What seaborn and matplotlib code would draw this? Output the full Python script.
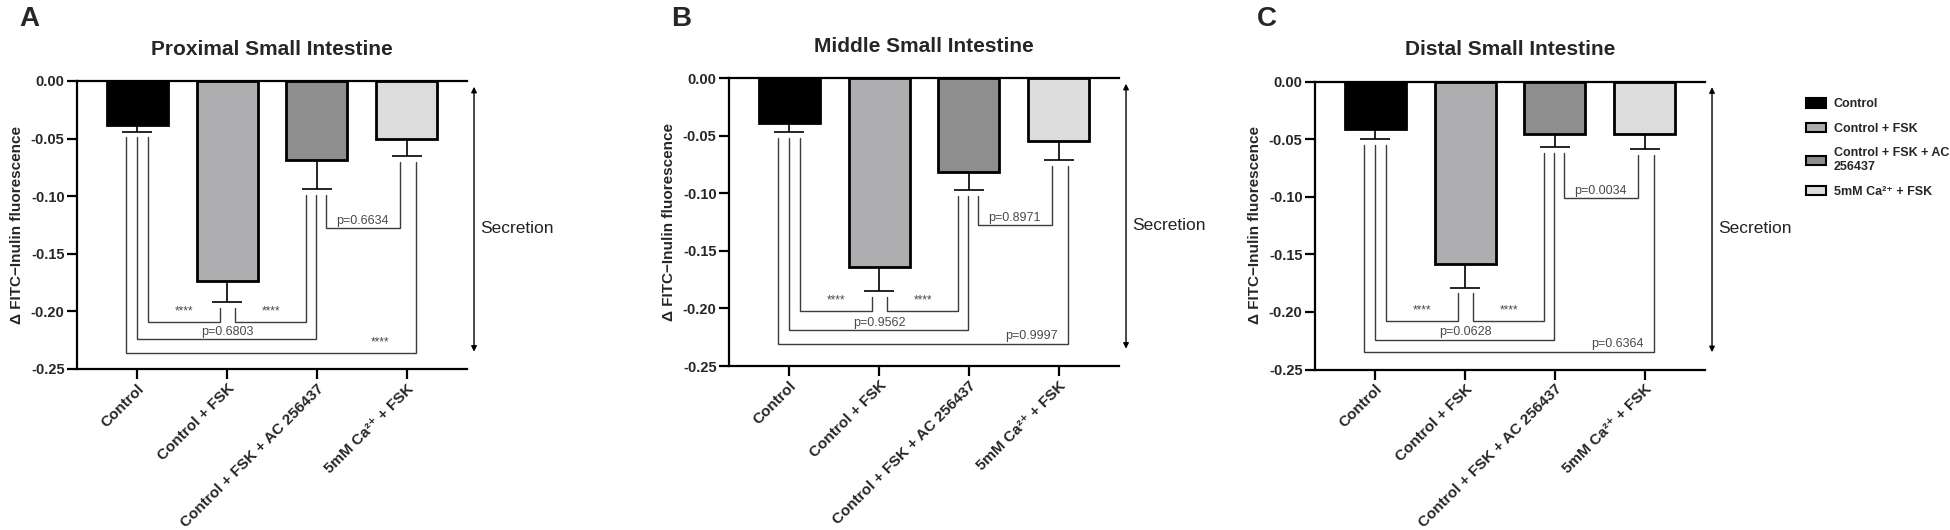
import numpy as np
import pandas as pd
import matplotlib
matplotlib.use("Agg")
import matplotlib.pyplot as plt
import matplotlib.transforms as mtransforms
from matplotlib.patches import Patch
import seaborn as sns

# ---------------- data ----------------
groups = ["Control", "Control + FSK", "Control + FSK + AC 256437", "5mM Ca²⁺ + FSK"]
legend_labels = ["Control", "Control + FSK", "Control + FSK + AC\n256437", "5mM Ca²⁺ + FSK"]
bar_colors = ["#000000", "#adadb1", "#8e8e8e", "#dcdcdc"]

panel_titles = ["Proximal Small Intestine", "Middle Small Intestine", "Distal Small Intestine"]
panel_letters = ["A", "B", "C"]

proximal_mean = [-0.038, -0.174, -0.069, -0.050]
proximal_sem = [0.006, 0.018, 0.025, 0.015]
middle_mean = [-0.039, -0.164, -0.082, -0.055]
middle_sem = [0.008, 0.021, 0.015, 0.016]
distal_mean = [-0.041, -0.158, -0.046, -0.046]
distal_sem = [0.009, 0.021, 0.011, 0.013]

# comparisons (pairs of group indices) and their labels per panel
pairs = [(0, 1), (1, 2), (0, 2), (0, 3), (2, 3)]
proximal_p = ["****", "****", "p=0.6803", "****", "p=0.6634"]
middle_p = ["****", "****", "p=0.9562", "p=0.9997", "p=0.8971"]
distal_p = ["****", "****", "p=0.0628", "p=0.6364", "p=0.0034"]

y_ticks = [0.00, -0.05, -0.10, -0.15, -0.20, -0.25]
y_label = "Δ FITC−Inulin fluorescence"

# ---------------- style ----------------
sns.set_style("ticks")
plt.rcParams["font.family"] = ["Liberation Sans", "DejaVu Sans"]
plt.rcParams["axes.unicode_minus"] = False

fig = plt.figure(figsize=(19.5, 5.3), dpi=100)
W, H = 1950.0, 530.0

# axes boxes in pixels: left, top, width, bottom
boxes = [(77, 81, 390, 369), (729, 78, 390, 366), (1315, 81.5, 390, 369.5)]

means = [proximal_mean, middle_mean, distal_mean]
sems = [proximal_sem, middle_sem, distal_sem]
plabels = [proximal_p, middle_p, distal_p]

# bracket heights (positive = depth below 0) for each pair per panel
levels = [
    [0.209, 0.209, 0.224, 0.236, 0.128],
    [0.202, 0.202, 0.219, 0.2305, 0.128],
    [0.208, 0.208, 0.224, 0.2346, 0.1015],
]
# leg offsets (left leg, right leg) for each pair
leg_off = [(0.12, -0.08), (0.09, -0.12), (0.0, -0.01), (-0.13, 0.1), (0.1, -0.08)]
label_x = [None, None, 1.0, 2.7, None]

line_col = "#3c3c3c"
text_col = "#4a4a4a"

for k in range(3):
    l, t, w, b = boxes[k]
    ax = fig.add_axes([l / W, 1 - b / H, w / W, (b - t) / H])
    df = pd.DataFrame({"group": groups, "value": means[k]})
    sns.barplot(data=df, x="group", y="value", hue="group", order=groups,
                hue_order=groups, palette=bar_colors, width=0.68,
                edgecolor="black", linewidth=2.0, errorbar=None,
                legend=False, ax=ax, zorder=2)
    m = np.array(means[k])
    s = np.array(sems[k])
    ax.errorbar(np.arange(4), m, yerr=[s, np.zeros(4)], fmt="none",
                ecolor="black", elinewidth=1.2, capsize=11, capthick=1.2,
                zorder=1)

    # significance brackets
    for pi, (i, j) in enumerate(pairs):
        lev = -levels[k][pi]
        xl = i + leg_off[pi][0]
        xr = j + leg_off[pi][1]
        yl = m[i] - s[i] - 0.005
        yr = m[j] - s[j] - 0.005
        ax.plot([xl, xl, xr, xr], [yl, lev, lev, yr], color=line_col,
                lw=1.0, zorder=1, solid_joinstyle="miter")
        lab = plabels[k][pi]
        tx = label_x[pi] if label_x[pi] is not None else (xl + xr) / 2
        if lab.startswith("*"):
            ax.text(tx, lev + 0.009, lab, ha="center", va="center",
                    fontsize=8.5, color=text_col)
        else:
            ax.text(tx, lev + 0.0012, lab, ha="center", va="bottom",
                    fontsize=9, color=text_col)

    ax.set_ylim(-0.25, 0.0)
    ax.set_xlim(-0.67, 3.67)
    ax.set_yticks(y_ticks)
    ax.set_yticklabels([f"{v:.2f}" for v in y_ticks], fontweight="bold", fontsize=10.5)
    ax.set_xticks(range(4))
    ax.set_xticklabels(groups, rotation=45, ha="right", rotation_mode="anchor",
                       fontweight="bold", fontsize=11)
    ax.set_xlabel("")
    ax.set_ylabel(y_label, fontweight="bold", fontsize=11, labelpad=5)
    ax.set_title(panel_titles[k], fontweight="bold", fontsize=15, pad=19)
    for side in ["left", "bottom", "top"]:
        ax.spines[side].set_linewidth(1.6)
        ax.spines[side].set_color("black")
    ax.spines["right"].set_visible(False)
    ax.tick_params(axis="both", width=1.6, length=7, color="black", pad=2)
    ax.tick_params(top=False, right=False)

    # secretion arrow
    trans = mtransforms.blended_transform_factory(ax.transAxes, ax.transData)
    ax.annotate("", xy=(1.018, -0.235), xytext=(1.018, -0.005),
                xycoords=trans, textcoords=trans,
                arrowprops=dict(arrowstyle="<|-|>", lw=1.0, color="black",
                                mutation_scale=8, shrinkA=0, shrinkB=0),
                annotation_clip=False)
    ax.text(1.033, -0.128, "Secretion", transform=trans, fontsize=12.5,
            ha="left", va="center", color="#222222")

    fig.text((l - 48) / W, 1 - 19 / H, panel_letters[k], fontsize=20,
             fontweight="bold", ha="center", va="center")

handles = [Patch(facecolor=c, edgecolor="black", linewidth=1.5) for c in bar_colors]
fig.legend(handles, legend_labels, loc="upper left",
           bbox_to_anchor=(1795 / W, 1 - 87 / H), frameon=False,
           prop={"weight": "bold", "size": 9}, handlelength=1.6,
           handleheight=0.8, labelspacing=1.0, handletextpad=0.6)

fig.savefig("out.png", dpi=100)
